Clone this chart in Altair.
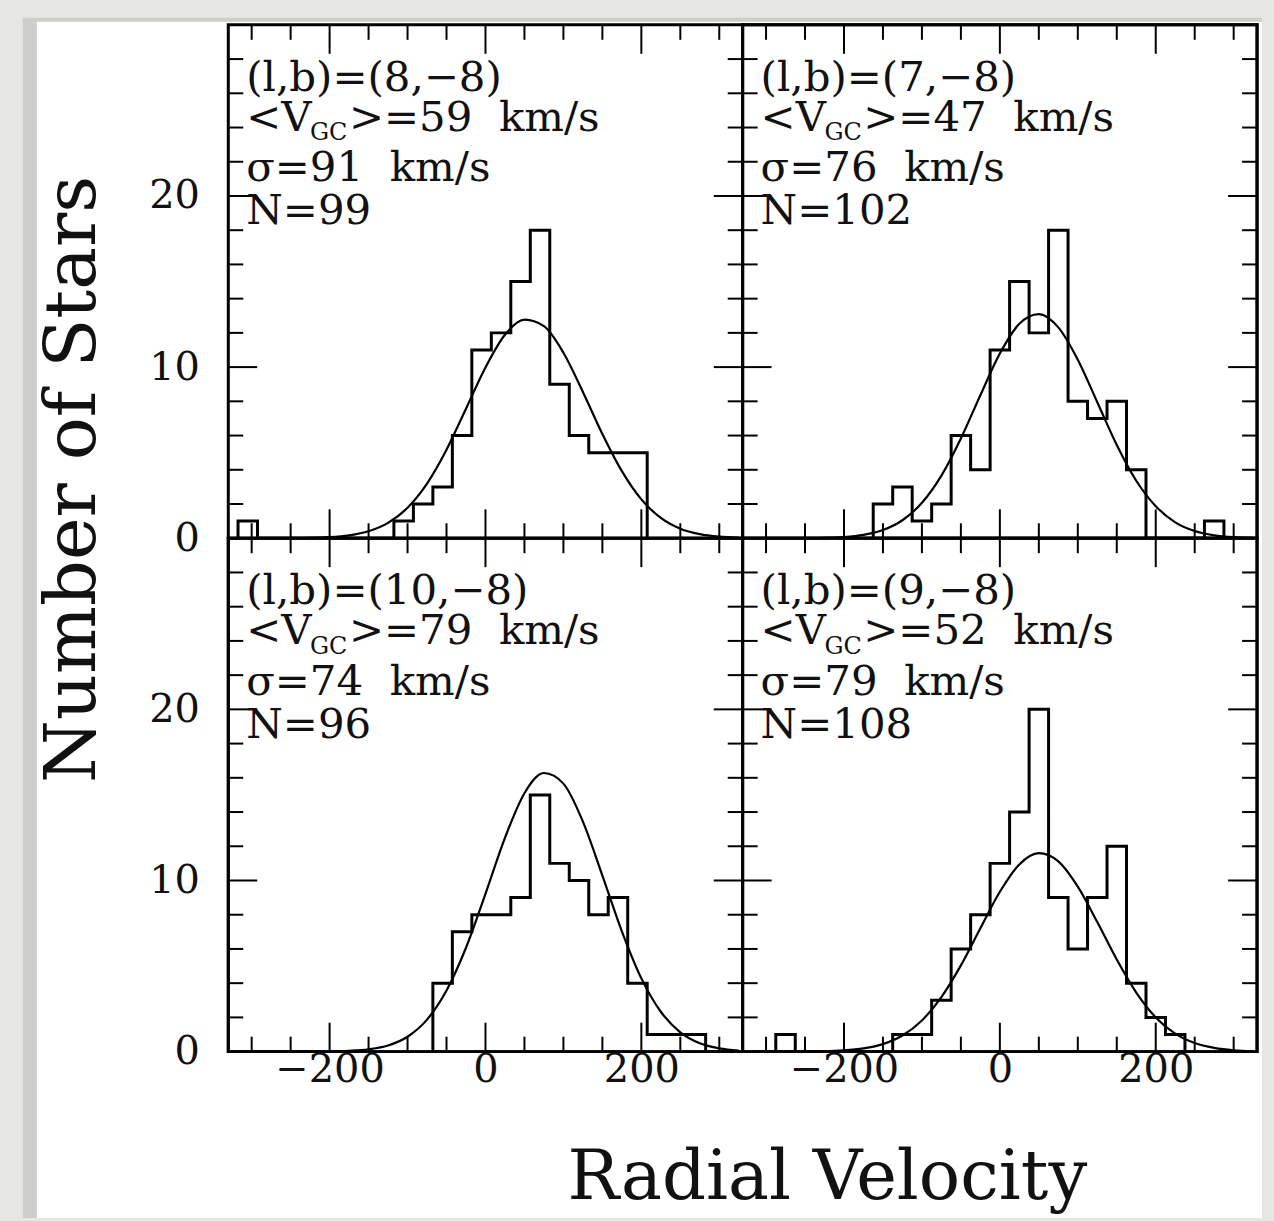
import altair as alt
import pandas as pd

# ---------------- data ----------------
BIN_WIDTH = 25
X_DOMAIN = [-330, 330]
Y_DOMAIN = [0, 30]
X_MINOR = [-300, -250, -150, -100, -50, 50, 100, 150, 250, 300]
X_MAJOR = [-200, 0, 200]
Y_MINOR = [2, 4, 6, 8, 12, 14, 16, 18, 22, 24, 26, 28]
Y_MAJOR = [10, 20]
X_LABELS = [-200, 0, 200]
Y_LABELS = [0, 10, 20]

lb_labels = ["(l,b)=(8,\u22128)", "(l,b)=(7,\u22128)", "(l,b)=(10,\u22128)", "(l,b)=(9,\u22128)"]
mean_v = [59, 47, 79, 52]
sigma_v = [91, 76, 74, 79]
n_stars = [99, 102, 96, 108]

hist_start = [-317.5, -162.5, -67.5, -287.5]
counts_tl = [1, 0, 0, 0, 0, 0, 0, 0, 1, 2, 3, 6, 11, 12, 15, 18, 9, 6, 5, 5, 5]
counts_tr = [2, 3, 1, 2, 6, 4, 11, 15, 12, 18, 8, 7, 8, 4, 0, 0, 0, 1]
counts_bl = [4, 7, 8, 8, 9, 15, 11, 10, 8, 9, 4, 1, 1, 1]
counts_br = [1, 0, 0, 0, 0, 0, 1, 1, 3, 6, 8, 11, 14, 20, 9, 6, 9, 12, 4, 2, 1]

fit_x = [-325, -300, -275, -250, -225, -200, -175, -150, -125, -100, -75, -50, -25, 0,
         25, 50, 75, 100, 125, 150, 175, 200, 225, 250, 275, 300, 325]
fit_tl = [0.00, 0.00, 0.00, 0.01, 0.02, 0.06, 0.17, 0.41, 0.90, 1.78, 3.19, 5.17, 7.57, 9.98,
          11.89, 12.77, 12.39, 10.84, 8.55, 6.09, 3.92, 2.27, 1.19, 0.56, 0.24, 0.09, 0.03]
fit_tr = [0.00, 0.00, 0.00, 0.01, 0.02, 0.07, 0.20, 0.48, 1.05, 2.07, 3.66, 5.83, 8.36, 10.79,
          12.53, 13.10, 12.32, 10.43, 7.95, 5.45, 3.36, 1.87, 0.93, 0.42, 0.17, 0.06, 0.02]
fit_bl = [0.00, 0.00, 0.00, 0.00, 0.00, 0.01, 0.05, 0.14, 0.36, 0.87, 1.87, 3.57, 6.07, 9.22,
          12.49, 15.10, 16.28, 15.66, 13.44, 10.29, 7.03, 4.28, 2.33, 1.13, 0.49, 0.19, 0.06]
fit_br = [0.00, 0.00, 0.00, 0.01, 0.02, 0.07, 0.19, 0.44, 0.94, 1.82, 3.19, 5.04, 7.21, 9.34,
          10.94, 11.60, 11.12, 9.64, 7.57, 5.38, 3.45, 2.00, 1.05, 0.50, 0.22, 0.08, 0.03]

# ---------------- styling ----------------
W, H = 516, 515
FONT = "DejaVu Serif"
INK = "#111111"
MAJOR_LEN, MINOR_LEN = 29, 15
TEXT_Y = [53, 93, 144, 187]
TEXT_X = 18
ONE = pd.DataFrame({"k": [0]})


def xenc(field, show):
    axis = None
    if show:
        axis = alt.Axis(values=X_LABELS, format="d", title=None, domain=False, ticks=False,
                        grid=False, labelFont=FONT, labelFontSize=40, labelPadding=18,
                        labelBaseline="middle", labelColor=INK, labelOverlap=False,
                        labelFlush=False, zindex=1)
    return alt.X(field, type="quantitative",
                 scale=alt.Scale(domain=X_DOMAIN, nice=False, zero=False), axis=axis)


def yenc(field, show):
    axis = None
    if show:
        axis = alt.Axis(values=Y_LABELS, format="d", title=None, domain=False, ticks=False,
                        grid=False, labelFont=FONT, labelFontSize=40, labelPadding=29,
                        labelColor=INK, labelOverlap=False, labelFlush=False, zindex=1)
    return alt.Y(field, type="quantitative",
                 scale=alt.Scale(domain=Y_DOMAIN, nice=False, zero=False), axis=axis)


def text_layer(text, x, y, size):
    return alt.Chart(pd.DataFrame({"t": [text]})).mark_text(
        align="left", baseline="middle", font=FONT, fontSize=size, color=INK
    ).encode(x=alt.value(x), y=alt.value(y), text="t:N")


def panel(i, counts, fit, show_x, show_y, extra_front=(), extra_back=()):
    start = hist_start[i]
    hx = [start] + [start + k * BIN_WIDTH for k in range(len(counts))] + [start + len(counts) * BIN_WIDTH]
    hy = [0] + list(counts) + [0]
    hist_df = pd.DataFrame({"v": hx, "n": hy, "i": list(range(len(hx)))})
    fit_df = pd.DataFrame({"v": fit_x, "n": fit})

    hist = alt.Chart(hist_df).mark_line(
        interpolate="step-after", color="black", strokeWidth=3
    ).encode(x=xenc("v", show_x), y=yenc("n", show_y), order="i:Q")
    curve = alt.Chart(fit_df).mark_line(
        interpolate="monotone", color="black", strokeWidth=2.2
    ).encode(x=xenc("v", show_x), y=yenc("n", show_y))

    layers = list(extra_back) + [hist, curve]

    # inward ticks on all four sides
    for vals, L in ((X_MINOR, MINOR_LEN), (X_MAJOR, MAJOR_LEN)):
        d = pd.DataFrame({"v": vals})
        layers.append(alt.Chart(d).mark_rule(color="black", strokeWidth=2).encode(
            x=xenc("v", show_x), y=alt.value(H), y2=alt.value(H - L)))
        layers.append(alt.Chart(d).mark_rule(color="black", strokeWidth=2).encode(
            x=xenc("v", show_x), y=alt.value(0), y2=alt.value(L)))
    for vals, L in ((Y_MINOR, MINOR_LEN), (Y_MAJOR, MAJOR_LEN)):
        d = pd.DataFrame({"n": vals})
        layers.append(alt.Chart(d).mark_rule(color="black", strokeWidth=2).encode(
            y=yenc("n", show_y), x=alt.value(0), x2=alt.value(L)))
        layers.append(alt.Chart(d).mark_rule(color="black", strokeWidth=2).encode(
            y=yenc("n", show_y), x=alt.value(W), x2=alt.value(W - L)))

    # panel frame
    layers.append(alt.Chart(ONE).mark_rect(
        fillOpacity=0, stroke="black", strokeWidth=3
    ).encode(x=alt.value(0), x2=alt.value(W), y=alt.value(0), y2=alt.value(H)))

    nb = "\u00a0\u00a0"
    layers += [
        text_layer(lb_labels[i], TEXT_X, TEXT_Y[0], 42),
        text_layer("<V", TEXT_X, TEXT_Y[1], 42),
        text_layer("GC", TEXT_X + 64, TEXT_Y[1] + 16, 24),
        text_layer(">=" + str(mean_v[i]) + nb + "km/s", TEXT_X + 103, TEXT_Y[1], 42),
        text_layer("\u03c3=" + str(sigma_v[i]) + nb + "km/s", TEXT_X, TEXT_Y[2], 42),
        text_layer("N=" + str(n_stars[i]), TEXT_X, TEXT_Y[3], 42),
    ]
    layers += list(extra_front)
    return alt.layer(*layers).properties(width=W, height=H)


# page frame (grey border with white sheet) and global titles live in the first panel
bg_dark = alt.Chart(ONE).mark_rect(color="#cdcdcb").encode(
    x=alt.value(-206), x2=alt.value(1037), y=alt.value(-7), y2=alt.value(1197))
bg_white = alt.Chart(ONE).mark_rect(color="white").encode(
    x=alt.value(-192), x2=alt.value(1037), y=alt.value(-3), y2=alt.value(1197))
ytitle = alt.Chart(pd.DataFrame({"t": ["Number of Stars"]})).mark_text(
    angle=270, align="center", baseline="middle", font=FONT, fontSize=72, color=INK
).encode(x=alt.value(-156), y=alt.value(456), text="t:N")
xtitle = alt.Chart(pd.DataFrame({"t": ["Radial Velocity"]})).mark_text(
    align="center", baseline="middle", font=FONT, fontSize=69, color=INK
).encode(x=alt.value(601), y=alt.value(1157), text="t:N")

tl = panel(0, counts_tl, fit_tl, False, True, extra_front=(ytitle, xtitle), extra_back=(bg_dark, bg_white))
tr = panel(1, counts_tr, fit_tr, False, False)
bl = panel(2, counts_bl, fit_bl, True, True)
br = panel(3, counts_br, fit_br, True, False)

chart = alt.concat(tl, tr, bl, br, columns=2, spacing=0, bounds="flush").properties(
    padding={"left": 21, "top": 14, "right": 10, "bottom": 3},
    background="#e6e6e4",
).configure_view(stroke="black", strokeWidth=3, fill="white")

chart.save("out.html", embed_options={"renderer": "svg", "actions": False})
